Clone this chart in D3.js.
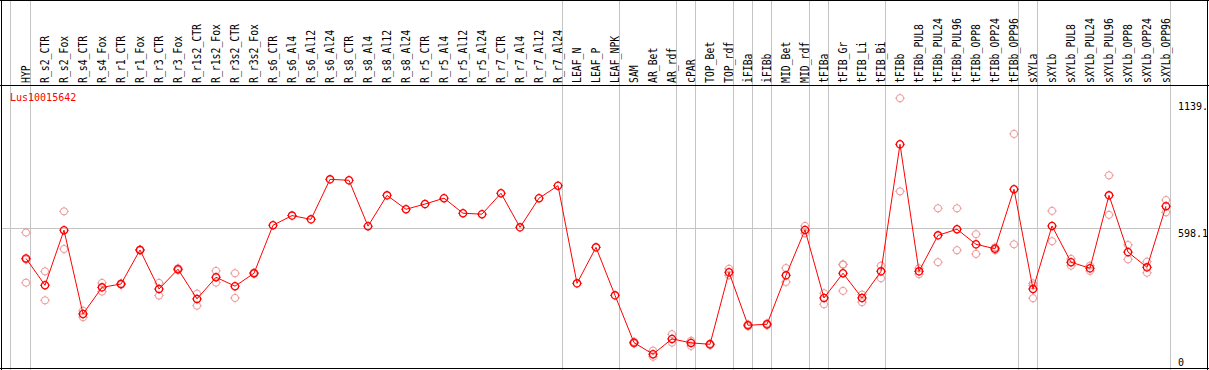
<!DOCTYPE html>
<html><head><meta charset="utf-8">
<script src="https://cdn.jsdelivr.net/npm/d3@7"></script>
<style>body{margin:0;background:#fff}svg{display:block}</style>
</head><body>
<script>
const categories = ["HYP","R_s2_CTR","R_s2_Fox","R_s4_CTR","R_s4_Fox","R_r1_CTR","R_r1_Fox","R_r3_CTR","R_r3_Fox","R_r1s2_CTR","R_r1s2_Fox","R_r3s2_CTR","R_r3s2_Fox","R_s6_CTR","R_s6_Al4","R_s6_Al12","R_s6_Al24","R_s8_CTR","R_s8_Al4","R_s8_Al12","R_s8_Al24","R_r5_CTR","R_r5_Al4","R_r5_Al12","R_r5_Al24","R_r7_CTR","R_r7_Al4","R_r7_Al12","R_r7_Al24","LEAF_N","LEAF_P","LEAF_NPK","SAM","AR_Bet","AR_rdf","cPAR","TOP_Bet","TOP_rdf","iFIBa","iFIBb","MID_Bet","MID_rdf","tFIBa","tFIB_Gr","tFIB_Li","tFIB_Bi","tFIBb","tFIBb_PUL8","tFIBb_PUL24","tFIBb_PUL96","tFIBb_OPP8","tFIBb_OPP24","tFIBb_OPP96","sXYLa","sXYLb","sXYLb_PUL8","sXYLb_PUL24","sXYLb_PUL96","sXYLb_OPP8","sXYLb_OPP24","sXYLb_OPP96"];
const meanValues = [470,356,590,234,347,361,506,340,424,298,390,352,407,611,652,636,806,802,607,738,679,701,726,662,658,747,602,726,779,364,517,313,112,63,128,111,105,411,186,190,398,591,302,407,302,415,955,415,568,594,530,511,764,340,608,454,428,738,497,432,692];
const rep1 = [580,415,670,248,366,364,508,366,428,320,417,407,410,null,null,null,null,null,null,null,null,null,null,null,null,null,null,null,null,null,null,null,116,78,148,120,108,426,190,194,429,608,322,445,316,439,1151,428,683,683,573,517,999,364,672,468,439,823,527,456,718];
const rep2 = [465,292,510,220,329,358,503,312,420,269,367,302,404,null,null,null,null,null,null,null,null,null,null,null,null,null,null,null,null,null,null,null,108,52,112,98,102,398,182,186,370,577,275,332,284,386,755,403,454,505,489,505,530,301,543,439,417,655,466,409,666];
const rep3 = [367,null,null,null,null,null,null,null,null,null,null,null,null,null,null,null,null,null,null,null,null,null,null,null,null,null,null,null,null,null,null,null,null,null,null,null,null,null,null,null,null,null,null,443,null,null,null,null,null,null,null,null,null,355,null,null,null,null,null,null,null];
const separatorsAfter = ["HYP","R_r7_Al24","LEAF_NPK","AR_rdf","cPAR","TOP_rdf","iFIBa","iFIBb","MID_rdf","tFIBa","tFIB_Bi","tFIBb_OPP96","sXYLa","sXYLb_OPP96"];
const axisTicks = [1139, 598.1, 0];
const axisTickLabels = ["1139.", "598.1", "0"];
const geneName = "Lus10015642";

const W = 1209, H = 370;
const svg = d3.select("body").append("svg").attr("width", W).attr("height", H);
const x = d3.scalePoint().domain(categories).range([26, 1166]);
const y = d3.scaleLinear().domain([0, 1139]).range([369, 101]);
const RED = "#ff0000", PINK = "#ee9696", GRID = "#c4c4c4";
const font = "'DejaVu Sans Mono', monospace";

svg.append("rect").attr("width", W).attr("height", H).attr("fill", "#fff");

// vertical separators
const sepX = [x(categories[0]) - 15.5].concat(separatorsAfter.map(c => x(c) + 4.5));
svg.selectAll("line.sep").data(sepX).enter().append("line")
  .attr("x1", d => d).attr("x2", d => d).attr("y1", 0).attr("y2", H)
  .attr("stroke", GRID).attr("stroke-width", 1);

// horizontal gridline at middle tick
const gy = Math.round(y(598.1)) + 0.5;
svg.append("line").attr("x1", 2).attr("x2", 1170).attr("y1", gy).attr("y2", gy)
  .attr("stroke", GRID).attr("stroke-width", 1);

// header labels
svg.selectAll("text.cat").data(categories).enter().append("text")
  .attr("transform", d => `translate(${x(d) + 4},83) rotate(-90)`)
  .attr("text-anchor", "start")
  .attr("font-family", font).attr("font-size", 11.5)
  .attr("textLength", d => d.length * 5.9).attr("lengthAdjust", "spacingAndGlyphs")
  .attr("fill", "#000").text(d => d);

// gene name
svg.append("text").attr("x", 10).attr("y", 101).attr("font-family", font)
  .attr("font-size", 10).attr("fill", RED).text(geneName);

// right axis labels
svg.selectAll("text.tick").data(axisTicks).enter().append("text")
  .attr("x", 1178).attr("y", d => Math.min(y(d) + 8.5, 366))
  .attr("font-family", font).attr("font-size", 10).attr("fill", "#000")
  .text((d, i) => axisTickLabels[i]);

function marker(g, cx, cy, color, sw) {
  const m = g.append("g").attr("transform", `translate(${cx},${cy})`);
  m.append("circle").attr("r", 3.6).attr("fill", "none").attr("stroke", color).attr("stroke-width", sw);
  [[0,-1],[0,1],[-1,0],[1,0]].forEach(([dx,dy]) => {
    m.append("line").attr("x1", dx*3.6).attr("y1", dy*3.6).attr("x2", dx*4.8).attr("y2", dy*4.8)
      .attr("stroke", color).attr("stroke-width", 1);
  });
}

// replicates
const gRep = svg.append("g");
[rep1, rep2, rep3].forEach(rep => {
  rep.forEach((v, i) => { if (v != null) marker(gRep, x(categories[i]), y(v), PINK, 1); });
});

// mean line
const line = d3.line().x((d, i) => x(categories[i])).y(d => y(d));
svg.append("path").datum(meanValues).attr("d", line)
  .attr("fill", "none").attr("stroke", RED).attr("stroke-width", 1);

const gMean = svg.append("g");
meanValues.forEach((v, i) => marker(gMean, x(categories[i]), y(v), RED, 1.3));

// borders
const bc = "#000";
svg.append("line").attr("x1", 0).attr("x2", W).attr("y1", 0.5).attr("y2", 0.5).attr("stroke", bc);
svg.append("line").attr("x1", 0).attr("x2", W).attr("y1", 85.5).attr("y2", 85.5).attr("stroke", bc);
svg.append("line").attr("x1", 0).attr("x2", W).attr("y1", 368.5).attr("y2", 368.5).attr("stroke", bc);
svg.append("line").attr("x1", 1.5).attr("x2", 1.5).attr("y1", 0).attr("y2", H).attr("stroke", bc);
svg.append("line").attr("x1", 1207.5).attr("x2", 1207.5).attr("y1", 0).attr("y2", H).attr("stroke", bc);
</script>
</body></html>
